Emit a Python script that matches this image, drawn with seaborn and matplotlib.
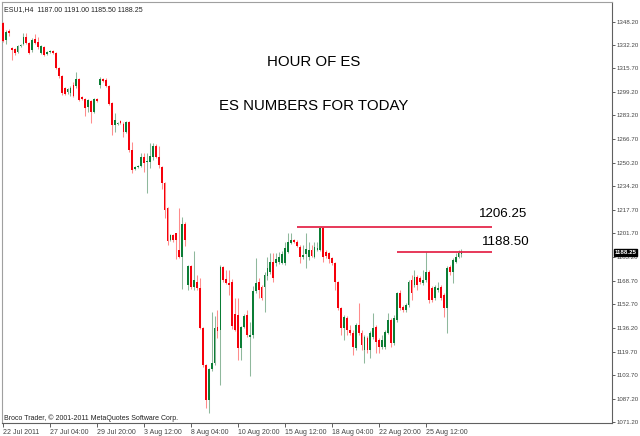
import matplotlib
matplotlib.use("Agg")
import matplotlib.pyplot as plt
import matplotlib.transforms as mtransforms
import seaborn as sns
import pandas as pd

# ---------------- data (ESU1, H4) ----------------
opens = [1347.2, 1335.4, 1341.6, 1329.9, 1329.2, 1327.1, 1331.2, 1332.6, 1337.5, 1333.3,
         1328.5, 1336.1, 1334.0, 1326.4, 1330.6, 1325.7, 1327.1, 1327.8, 1326.4, 1316.0,
         1310.5, 1302.2, 1299.4, 1298.7, 1304.2, 1303.5, 1308.4, 1295.9, 1294.5, 1289.0,
         1293.1, 1285.5, 1294.5, 1304.2, 1308.4, 1307.7, 1303.5, 1291.8, 1276.5, 1277.2,
         1279.3, 1277.2, 1271.7, 1278.6, 1259.2, 1246.1, 1247.4, 1248.1, 1254.4, 1250.9,
         1250.9, 1254.4, 1262.0, 1254.4, 1247.4, 1236.4, 1219.1, 1196.9, 1200.4, 1201.8,
         1190.0, 1185.1, 1208.0, 1165.7, 1178.9, 1164.4, 1167.8, 1163.7, 1135.9, 1110.4,
         1086.1, 1107.6, 1111.7, 1136.6, 1134.6, 1178.2, 1169.9, 1167.1, 1167.8, 1145.7,
         1145.0, 1122.1, 1136.6, 1145.0, 1129.7, 1131.1, 1161.6, 1167.8, 1164.4, 1164.4,
         1172.0, 1174.7, 1181.7, 1181.0, 1181.7, 1181.0, 1181.0, 1188.6, 1194.8, 1196.9,
         1195.5, 1192.1, 1185.1, 1187.2, 1185.1, 1190.0, 1185.1, 1190.0, 1190.0, 1205.2,
         1188.6, 1187.9, 1184.4, 1181.0, 1167.8, 1149.8, 1135.9, 1142.9, 1134.6, 1132.5,
         1122.1, 1138.1, 1132.5, 1120.7, 1129.0, 1120.7, 1129.7, 1136.6, 1127.7, 1122.8,
         1122.8, 1132.5, 1141.5, 1125.6, 1141.5, 1160.2, 1150.5, 1148.4, 1151.9, 1169.2,
         1165.7, 1171.3, 1170.6, 1167.1, 1169.2, 1174.7, 1163.7, 1156.7, 1162.3, 1164.4,
         1158.8, 1149.8, 1178.2, 1174.7, 1181.7, 1185.1, 1187.0]

highs = [1347.9, 1342.3, 1343.0, 1330.6, 1329.9, 1331.9, 1332.6, 1340.2, 1340.2, 1334.0,
         1336.8, 1339.5, 1337.5, 1331.9, 1331.2, 1327.8, 1328.5, 1328.5, 1327.1, 1316.7,
         1311.2, 1302.9, 1302.2, 1303.5, 1306.3, 1313.2, 1309.1, 1296.6, 1295.2, 1294.5,
         1293.8, 1295.2, 1295.2, 1309.8, 1309.1, 1309.1, 1304.2, 1292.5, 1284.8, 1278.6,
         1280.0, 1278.6, 1279.3, 1279.3, 1264.8, 1248.1, 1248.8, 1257.1, 1257.1, 1257.1,
         1264.1, 1264.1, 1263.4, 1262.0, 1248.1, 1237.1, 1219.8, 1201.1, 1201.1, 1201.8,
         1219.1, 1212.8, 1209.4, 1179.6, 1179.6, 1189.3, 1172.7, 1170.6, 1136.6, 1111.0,
         1108.3, 1147.0, 1144.3, 1148.4, 1179.6, 1178.9, 1176.1, 1176.1, 1169.9, 1156.7,
         1156.7, 1137.3, 1145.7, 1148.4, 1140.1, 1165.0, 1184.4, 1170.6, 1165.7, 1174.7,
         1185.1, 1187.9, 1187.9, 1187.9, 1188.6, 1189.3, 1195.5, 1201.8, 1201.8, 1197.6,
         1196.9, 1193.4, 1193.4, 1201.8, 1195.5, 1193.4, 1195.5, 1195.5, 1206.25, 1206.0,
         1190.0, 1188.6, 1185.1, 1181.7, 1168.5, 1150.5, 1145.0, 1144.3, 1138.1, 1134.6,
         1139.4, 1153.3, 1134.6, 1131.1, 1130.4, 1133.9, 1146.3, 1138.1, 1129.0, 1131.1,
         1134.6, 1146.3, 1142.9, 1145.0, 1160.9, 1162.3, 1151.9, 1153.3, 1169.2, 1172.7,
         1176.1, 1172.7, 1172.0, 1176.1, 1188.5, 1176.1, 1165.0, 1165.7, 1167.8, 1165.7,
         1160.2, 1178.9, 1179.6, 1184.4, 1187.9, 1190.0, 1191.0]

lows = [1334.0, 1332.6, 1338.2, 1321.6, 1325.0, 1326.4, 1330.6, 1331.9, 1332.6, 1325.7,
        1327.1, 1332.6, 1329.2, 1325.7, 1324.3, 1325.0, 1326.4, 1325.7, 1315.3, 1309.1,
        1297.3, 1297.3, 1298.0, 1296.6, 1295.9, 1302.2, 1293.1, 1293.8, 1282.8, 1285.5,
        1277.9, 1284.8, 1292.5, 1302.2, 1306.3, 1302.9, 1290.4, 1269.6, 1271.7, 1276.5,
        1277.2, 1268.2, 1271.0, 1257.8, 1243.3, 1245.4, 1246.8, 1247.4, 1244.0, 1229.4,
        1246.8, 1252.3, 1253.7, 1246.8, 1232.2, 1212.1, 1193.4, 1196.2, 1195.5, 1183.7,
        1184.4, 1163.0, 1192.8, 1162.3, 1163.0, 1162.3, 1162.3, 1135.3, 1109.0, 1080.6,
        1077.1, 1106.2, 1110.4, 1129.0, 1096.5, 1167.8, 1166.4, 1158.8, 1135.3, 1133.9,
        1113.8, 1113.8, 1135.9, 1129.7, 1102.7, 1129.0, 1160.2, 1156.7, 1155.4, 1147.0,
        1169.2, 1173.4, 1167.8, 1178.9, 1180.3, 1180.3, 1179.6, 1187.9, 1194.1, 1194.8,
        1192.1, 1181.0, 1183.7, 1177.5, 1183.0, 1185.1, 1184.4, 1189.3, 1189.3, 1181.7,
        1184.4, 1181.0, 1179.6, 1162.3, 1148.4, 1131.1, 1127.7, 1131.1, 1131.1, 1117.3,
        1120.7, 1131.1, 1120.7, 1111.7, 1118.7, 1115.2, 1128.4, 1118.7, 1118.7, 1121.4,
        1121.4, 1131.8, 1122.8, 1124.2, 1140.1, 1148.4, 1147.0, 1147.0, 1150.5, 1155.4,
        1164.4, 1162.3, 1166.4, 1165.7, 1167.8, 1153.3, 1154.0, 1155.4, 1160.9, 1155.4,
        1143.6, 1132.5, 1172.7, 1167.1, 1181.0, 1184.4, 1185.5]

closes = [1334.7, 1340.9, 1340.2, 1328.5, 1326.4, 1331.2, 1331.9, 1337.5, 1333.3, 1326.4,
          1335.4, 1333.3, 1330.6, 1331.2, 1325.0, 1327.1, 1327.8, 1326.4, 1316.0, 1310.5,
          1298.7, 1298.0, 1301.5, 1302.2, 1296.6, 1308.4, 1293.8, 1294.5, 1288.3, 1293.8,
          1285.5, 1294.5, 1293.1, 1308.4, 1307.0, 1303.5, 1291.1, 1276.5, 1280.0, 1277.9,
          1277.9, 1271.7, 1278.6, 1259.2, 1245.4, 1247.4, 1248.1, 1254.4, 1250.2, 1251.6,
          1255.1, 1262.0, 1254.4, 1248.8, 1236.4, 1217.7, 1196.2, 1200.4, 1196.9, 1196.9,
          1185.1, 1208.0, 1196.9, 1178.9, 1164.4, 1169.2, 1163.7, 1135.9, 1110.4, 1086.1,
          1107.6, 1111.7, 1135.9, 1133.9, 1178.2, 1169.2, 1167.1, 1165.7, 1137.3, 1134.6,
          1122.1, 1136.6, 1144.3, 1131.1, 1131.1, 1161.6, 1167.1, 1162.3, 1156.7, 1172.7,
          1177.5, 1181.7, 1170.6, 1183.7, 1185.1, 1187.2, 1191.4, 1195.5, 1196.9, 1195.5,
          1192.8, 1185.1, 1186.5, 1190.7, 1190.0, 1185.8, 1192.1, 1191.4, 1205.2, 1185.1,
          1185.8, 1183.7, 1181.0, 1167.8, 1149.8, 1135.9, 1143.6, 1134.6, 1132.5, 1122.8,
          1138.1, 1132.5, 1124.2, 1129.7, 1120.7, 1132.5, 1135.9, 1126.3, 1122.8, 1127.7,
          1133.2, 1141.5, 1125.6, 1142.9, 1160.2, 1149.8, 1148.4, 1151.9, 1167.8, 1160.2,
          1171.3, 1165.7, 1167.8, 1169.2, 1174.7, 1155.4, 1155.4, 1164.4, 1163.7, 1156.7,
          1149.8, 1177.5, 1174.7, 1183.0, 1185.1, 1187.9, 1188.25]

ytick_values = [1348.20, 1332.20, 1315.70, 1299.20, 1283.20, 1266.70, 1250.20, 1234.20,
                1217.70, 1201.70, 1185.20, 1168.70, 1152.70, 1136.20, 1119.70, 1103.70,
                1087.20, 1071.20]
ytick_labels = ["%.2f" % v for v in ytick_values]

xtick_bars = [0, 16, 32, 48, 64, 80, 96, 112, 128, 144]
xtick_labels = ["22 Jul 2011", "27 Jul 04:00", "29 Jul 20:00", "3 Aug 12:00", "8 Aug 04:00",
                "10 Aug 20:00", "15 Aug 12:00", "18 Aug 04:00", "22 Aug 20:00", "25 Aug 12:00"]

level_values = [1206.25, 1188.50]
level_labels = ["1206.25", "1188.50"]
last_price = 1188.25
header = "ESU1,H4  1187.00 1191.00 1185.50 1188.25"
footer = "Broco Trader, \u00a9 2001-2011 MetaQuotes Software Corp."
title1 = "HOUR OF ES"
title2 = "ES NUMBERS FOR TODAY"

# ---------------- style ----------------
sns.set_theme(style="white")
plt.rcParams['font.family'] = ['Liberation Sans', 'DejaVu Sans']

W, H = 640, 436
fig = plt.figure(figsize=(W / 100, H / 100), dpi=100)
fig.patch.set_facecolor("white")
ax = fig.add_axes([2 / W, 1 - 423 / H, 610 / W, 421 / H])
ax.set_facecolor("white")

df = pd.DataFrame({"open": opens, "high": highs, "low": lows, "close": closes})
df["bar"] = range(len(df))
df["bull"] = df["close"] >= df["open"]
df["body_low"] = df[["open", "close"]].min(axis=1)
df["body_h"] = (df["close"] - df["open"]).abs().clip(lower=0.6)

bull_body, bear_body = "#0b7d35", "#f5000a"
bull_wick, bear_wick = "#8fb89c", "#ff8c8c"

for is_bull, bcol, wcol in [(True, bull_body, bull_wick), (False, bear_body, bear_wick)]:
    d = df[df["bull"] == is_bull]
    ax.vlines(d["bar"], d["low"], d["high"], colors=wcol, linewidth=0.75, zorder=2)
    ax.bar(d["bar"], d["body_h"], bottom=d["body_low"], width=0.62,
           color=bcol, linewidth=0, zorder=3)

ax.set_xlim(-0.3, 207.2)
ax.set_ylim(1070.3, 1361.7)

# level lines
level_x = [(100.1, 166.4), (134.1, 166.4)]
for v, (x0, x1) in zip(level_values, level_x):
    ax.hlines(v, x0, x1, color="#e3163d", linewidth=1.2, zorder=4)

# axes / ticks
ax.yaxis.tick_right()
ax.set_yticks(ytick_values)
ax.set_yticklabels(ytick_labels)
ax.tick_params(axis="y", which="both", right=True, left=False, labelright=True, labelleft=False,
               direction="out", length=2.5, width=0.6, pad=1.0, labelsize=4.4, colors="#444444")
ax.set_xticks(xtick_bars)
ax.set_xticklabels(xtick_labels, ha="left")
ax.tick_params(axis="x", which="both", bottom=True, top=False, direction="out", length=3,
               width=0.6, pad=1.2, labelsize=5, colors="#444444")
for lab in ax.get_xticklabels():
    lab.set_horizontalalignment("left")
ax.grid(False)
for side in ["left", "top"]:
    ax.spines[side].set_color("#a0a0a0")
    ax.spines[side].set_linewidth(0.8)
for side in ["right", "bottom"]:
    ax.spines[side].set_color("#606060")
    ax.spines[side].set_linewidth(0.8)

# current price box
trans = mtransforms.blended_transform_factory(ax.transAxes, ax.transData)
ax.text(1.004, last_price, "%.2f" % last_price, transform=trans, ha="left", va="center",
        fontsize=4.4, color="white", fontweight="bold", zorder=10, clip_on=False,
        bbox=dict(boxstyle="square,pad=0.15", facecolor="black", edgecolor="black"))

# texts
fig.text(4 / W, 1 - 11 / H, header, fontsize=5, color="#222222", ha="left", va="baseline")
fig.text(4 / W, 1 - 420 / H, footer, fontsize=5, color="#222222", ha="left", va="baseline")
fig.text(314 / W, 1 - 66 / H, title1, fontsize=10.8, color="black", ha="center", va="baseline")
fig.text(313.5 / W, 1 - 110 / H, title2, fontsize=10.8, color="black", ha="center", va="baseline")
fig.text(503 / W, 1 - 217.3 / H, level_labels[0], fontsize=9.6, color="black", ha="center", va="baseline")
fig.text(505.7 / W, 1 - 245 / H, level_labels[1], fontsize=9.6, color="black", ha="center", va="baseline")

fig.savefig("out.png", dpi=100, facecolor="white")
